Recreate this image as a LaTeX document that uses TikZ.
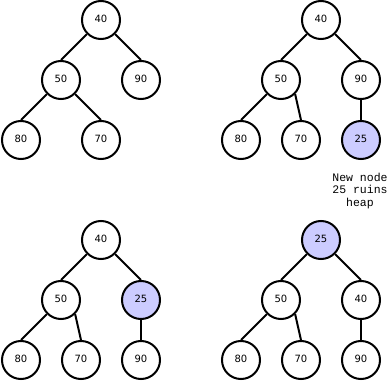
\documentclass[tikz,border=0pt]{standalone}
\usepackage{fontspec}
\newfontfamily\keyfont{DejaVu Sans}
\newfontfamily\notefont{Liberation Mono}
\definecolor{newkey}{RGB}{204,204,255}
\begin{document}
\begin{tikzpicture}[x=1pt,y=-1pt,
  key/.style={circle,draw,line width=2pt,minimum size=38pt,inner sep=0pt,fill=white,
    text height=7.3pt,text depth=3pt,font=\keyfont\fontsize{10}{12}\selectfont},
  added/.style={key,fill=newkey},
  edge/.style={line width=2pt}]
\useasboundingbox (0,0) rectangle (389,382);
% before insertion
\node[key] (a40) at (101,20) {40};
\node[key] (a50) at (61,80) {50};
\node[key] (a90) at (141,80) {90};
\node[key] (a80) at (21,140) {80};
\node[key] (a70) at (101,140) {70};
\draw[edge] (a40.south west) -- (a50.north);
\draw[edge] (a40.south east) -- (a90.north);
\draw[edge] (a50.south west) -- (a80.north);
\draw[edge] (a50.south east) -- (a70.north);
% 25 added as a leaf
\node[key] (b40) at (321,20) {40};
\node[key] (b50) at (281,80) {50};
\node[key] (b90) at (361,80) {90};
\node[key] (b80) at (241,140) {80};
\node[key] (b70) at (301,140) {70};
\node[added] (b25) at (361,140) {25};
\draw[edge] (b40.south west) -- (b50.north);
\draw[edge] (b40.south east) -- (b90.north);
\draw[edge] (b50.south west) -- (b80.north);
\draw[edge] (b50.south east) -- (b70.north);
\draw[edge] (b90) -- (b25);
\node[align=center,inner sep=0pt,font=\notefont\fontsize{11.5}{12.5}\selectfont] (note) at (360,191) {New node\\25 ruins\\heap};
% 25 swapped with 90
\node[key] (c40) at (101,240) {40};
\node[key] (c50) at (61,300) {50};
\node[added] (c25) at (141,300) {25};
\node[key] (c80) at (21,360) {80};
\node[key] (c70) at (81,360) {70};
\node[key] (c90) at (141,360) {90};
\draw[edge] (c40.south west) -- (c50.north);
\draw[edge] (c40.south east) -- (c25.north);
\draw[edge] (c50.south west) -- (c80.north);
\draw[edge] (c50.south east) -- (c70.north);
\draw[edge] (c25) -- (c90);
% 25 swapped with 40
\node[added] (d25) at (321,240) {25};
\node[key] (d50) at (281,300) {50};
\node[key] (d40) at (361,300) {40};
\node[key] (d80) at (241,360) {80};
\node[key] (d70) at (301,360) {70};
\node[key] (d90) at (361,360) {90};
\draw[edge] (d25.south west) -- (d50.north);
\draw[edge] (d25.south east) -- (d40.north);
\draw[edge] (d50.south west) -- (d80.north);
\draw[edge] (d50.south east) -- (d70.north);
\draw[edge] (d40) -- (d90);
\end{tikzpicture}
\end{document}
